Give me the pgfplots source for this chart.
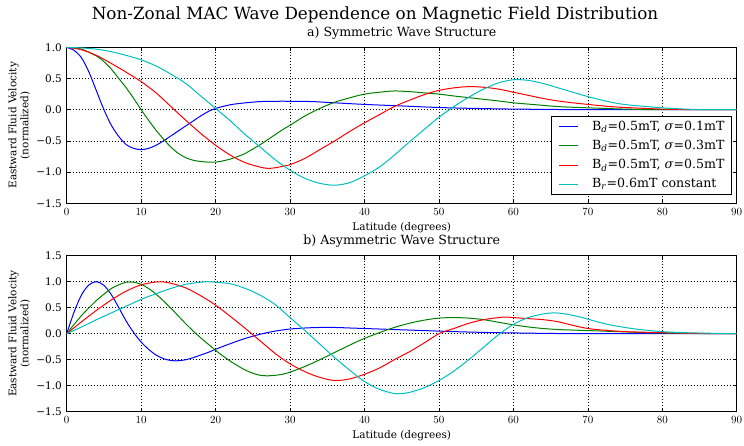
\documentclass[border=0pt]{standalone}
\usepackage{fontspec}
\setmainfont{DejaVu Serif}
\usepackage{pgfplots}
\pgfplotsset{compat=1.18}
\definecolor{mb}{rgb}{0,0,1}
\definecolor{mg}{rgb}{0,0.5,0}
\definecolor{mr}{rgb}{1,0,0}
\definecolor{mc}{rgb}{0,0.75,0.75}
\newcommand{\tickfont}{\fontsize{10.5}{12}\selectfont}
\newcommand{\labfont}{\fontsize{10.5}{12}\selectfont}
\newcommand{\subfont}{\fontsize{12.6}{15}\selectfont}
\newcommand{\legfont}{\fontsize{12.6}{15}\selectfont}
\pgfplotsset{
  mystyle/.style={
    scale only axis, width=670pt, height=156pt,
    xmin=0, xmax=90, enlargelimits=false,
    xtick={0,10,...,90},
    xtick pos=both, ytick pos=both, tick align=inside,
    major tick length=4pt,
    every tick/.style={black, line width=0.6pt},
    axis line style={black, line width=1pt},
    grid=major,
    major grid style={black, line width=0.5pt, dash pattern=on 1pt off 2pt},
    xticklabel style={font=\tickfont, inner sep=0pt, anchor=north, yshift=-5pt},
    yticklabel style={font=\tickfont, inner sep=0pt, anchor=east, xshift=-4.7pt},
    xlabel={Latitude (degrees)},
    xlabel style={font=\labfont, at={(axis description cs:0.5,0)}, anchor=base, yshift=-26.8pt},
    ylabel={Eastward Fluid Velocity\\(normalized)},
    ylabel style={font=\labfont, align=center, inner sep=0pt, at={(axis description cs:-0.0545,0.5)}, anchor=south},
    title style={font=\subfont, at={(axis description cs:0.5,1)}, anchor=base, yshift=5pt},
    every axis plot/.append style={line width=1pt, smooth},
  }
}
\begin{document}
\begin{tikzpicture}
\useasboundingbox (0,0) rectangle (744pt,445pt);
\begin{axis}[mystyle,
  at={(66.7pt,241.7pt)}, anchor=south west,
  ymin=-1.5, ymax=1.0,
  ytick={-1.5,-1,-0.5,0,0.5,1},
  yticklabels={−1.5,−1.0,−0.5,0.0,0.5,1.0},
  title={a) Symmetric Wave Structure},
  legend cell align=left,
  legend style={at={(rel axis cs:0.9925,0.053)}, anchor=south east,
    draw=black, line width=0.8pt, fill=white, inner xsep=6.7pt, inner ysep=0.8pt,
    font=\legfont,
    nodes={text height=9.5pt, text depth=2.5pt, inner ysep=3.6pt, inner xsep=0pt},
    /tikz/every odd column/.style={column sep=14pt}},
  legend image code/.code={\draw[#1, line width=1pt] (0pt,0pt) -- (19pt,0pt);},
]
\addplot[mb] coordinates {(0,1.0) (1,0.95) (2,0.83) (3,0.6) (4,0.3) (5,0.0) (6,-0.25) (7,-0.43) (8,-0.56) (9,-0.62) (10,-0.64) (11,-0.62) (12,-0.57) (13,-0.5) (14,-0.42) (15,-0.34) (16,-0.26) (17,-0.18) (18,-0.1) (19,-0.03) (20,0.02) (22,0.08) (24,0.11) (26,0.13) (28,0.135) (30,0.135) (33,0.13) (36,0.11) (40,0.085) (45,0.06) (50,0.035) (55,0.02) (60,0.01) (70,0.0) (80,0) (90,0)};
\addlegendentry{B\textsubscript{\textit{d}}=0.5mT, \textit{σ}=0.1mT}
\addplot[mg] coordinates {(0,1) (2,0.97) (4,0.86) (5,0.77) (6,0.65) (7,0.5) (8,0.35) (9,0.18) (10,0.0) (11,-0.17) (12,-0.33) (13,-0.47) (14,-0.6) (15,-0.7) (16,-0.77) (17,-0.81) (18,-0.83) (19,-0.84) (20,-0.84) (21,-0.82) (22,-0.79) (23,-0.75) (24,-0.7) (25,-0.63) (26,-0.56) (27,-0.48) (28,-0.4) (29,-0.32) (30,-0.25) (32,-0.1) (34,0.02) (36,0.12) (38,0.19) (40,0.25) (42,0.28) (44,0.3) (46,0.29) (48,0.27) (50,0.25) (52,0.22) (55,0.18) (58,0.14) (60,0.11) (63,0.08) (66,0.05) (70,0.03) (75,0.01) (80,0.0) (90,0)};
\addlegendentry{B\textsubscript{\textit{d}}=0.5mT, \textit{σ}=0.3mT}
\addplot[mr] coordinates {(0,1) (2,0.96) (4,0.87) (6,0.74) (8,0.6) (10,0.45) (12,0.27) (14,0.05) (16,-0.17) (18,-0.38) (20,-0.57) (22,-0.73) (24,-0.85) (26,-0.92) (27,-0.94) (28,-0.93) (30,-0.88) (32,-0.78) (34,-0.64) (36,-0.5) (38,-0.35) (40,-0.21) (42,-0.08) (44,0.05) (46,0.15) (48,0.24) (50,0.31) (52,0.35) (54,0.37) (56,0.36) (58,0.33) (60,0.28) (62,0.23) (64,0.18) (66,0.14) (68,0.11) (70,0.085) (73,0.05) (76,0.03) (80,0.01) (85,0.0) (90,0)};
\addlegendentry{B\textsubscript{\textit{d}}=0.5mT, \textit{σ}=0.5mT}
\addplot[mc] coordinates {(0,1) (2,0.99) (4,0.97) (6,0.93) (8,0.87) (10,0.8) (12,0.7) (14,0.57) (16,0.42) (18,0.22) (20,0.02) (22,-0.18) (24,-0.4) (26,-0.6) (28,-0.8) (30,-0.97) (32,-1.1) (34,-1.18) (36,-1.21) (38,-1.17) (40,-1.06) (42,-0.92) (44,-0.73) (46,-0.52) (48,-0.32) (50,-0.12) (52,0.05) (54,0.2) (56,0.33) (58,0.43) (60,0.48) (62,0.47) (64,0.42) (66,0.35) (68,0.28) (70,0.21) (72,0.15) (74,0.1) (76,0.07) (78,0.05) (80,0.03) (83,0.01) (86,0.0) (90,0)};
\addlegendentry{B\textsubscript{\textit{r}}=0.6mT constant}
\end{axis}
\begin{axis}[mystyle,
  at={(66.7pt,33.3pt)}, anchor=south west,
  ymin=-1.5, ymax=1.5,
  ytick={-1.5,-1,-0.5,0,0.5,1,1.5},
  yticklabels={−1.5,−1.0,−0.5,0.0,0.5,1.0,1.5},
  title={b) Asymmetric Wave Structure},
]
\addplot[mb] coordinates {(0,0) (1,0.42) (2,0.75) (3,0.94) (4,1.0) (5,0.93) (6,0.75) (7,0.5) (8,0.24) (9,0.02) (10,-0.16) (11,-0.3) (12,-0.41) (13,-0.48) (14,-0.515) (15,-0.52) (16,-0.5) (17,-0.46) (18,-0.41) (19,-0.36) (20,-0.3) (22,-0.19) (24,-0.09) (26,-0.01) (28,0.05) (30,0.09) (32,0.11) (34,0.12) (36,0.12) (38,0.11) (40,0.1) (44,0.08) (48,0.06) (52,0.04) (56,0.025) (60,0.015) (65,0.005) (70,0) (80,0) (90,0)};
\addplot[mg] coordinates {(0,0) (1,0.18) (2,0.35) (3,0.5) (4,0.64) (5,0.76) (6,0.87) (7,0.94) (8,0.99) (9,0.99) (10,0.95) (11,0.87) (12,0.76) (13,0.63) (14,0.49) (15,0.34) (16,0.19) (17,0.05) (18,-0.08) (19,-0.2) (20,-0.32) (21,-0.43) (22,-0.53) (23,-0.62) (24,-0.7) (25,-0.76) (26,-0.8) (27,-0.81) (28,-0.8) (29,-0.78) (30,-0.74) (32,-0.63) (34,-0.5) (36,-0.36) (38,-0.22) (40,-0.09) (42,0.02) (44,0.12) (46,0.2) (48,0.26) (50,0.3) (52,0.31) (54,0.3) (56,0.27) (58,0.22) (60,0.17) (62,0.13) (64,0.1) (66,0.08) (68,0.07) (70,0.06) (74,0.04) (78,0.02) (82,0.01) (86,0) (90,0)};
\addplot[mr] coordinates {(0,0) (2,0.23) (4,0.45) (6,0.65) (8,0.82) (10,0.94) (12,0.995) (13,0.995) (14,0.97) (16,0.88) (18,0.73) (20,0.55) (22,0.33) (24,0.1) (26,-0.14) (28,-0.38) (30,-0.58) (32,-0.73) (34,-0.84) (36,-0.9) (38,-0.87) (40,-0.78) (42,-0.66) (44,-0.5) (46,-0.35) (48,-0.18) (50,0.0) (52,0.1) (54,0.2) (56,0.27) (58,0.31) (59,0.32) (60,0.31) (62,0.29) (64,0.27) (66,0.23) (68,0.16) (70,0.1) (72,0.07) (75,0.04) (80,0.02) (85,0.005) (90,0)};
\addplot[mc] coordinates {(0,0) (2,0.13) (4,0.27) (6,0.4) (8,0.53) (10,0.66) (12,0.77) (14,0.87) (16,0.95) (18,0.99) (19,1.0) (20,0.99) (22,0.96) (24,0.87) (26,0.74) (28,0.56) (30,0.31) (32,0.06) (34,-0.2) (36,-0.46) (38,-0.7) (40,-0.92) (42,-1.07) (44,-1.15) (45,-1.15) (46,-1.13) (48,-1.04) (50,-0.9) (52,-0.72) (54,-0.5) (56,-0.26) (58,-0.02) (60,0.18) (62,0.31) (64,0.38) (65.5,0.4) (67,0.38) (69,0.32) (71,0.24) (73,0.17) (75,0.12) (77,0.08) (80,0.04) (83,0.02) (86,0.01) (90,0)};
\end{axis}
\node[anchor=base, inner sep=0pt, font=\fontsize{16.8}{20}\selectfont] at (375pt,425.7pt) {Non-Zonal MAC Wave Dependence on Magnetic Field Distribution};
\end{tikzpicture}
\end{document}
